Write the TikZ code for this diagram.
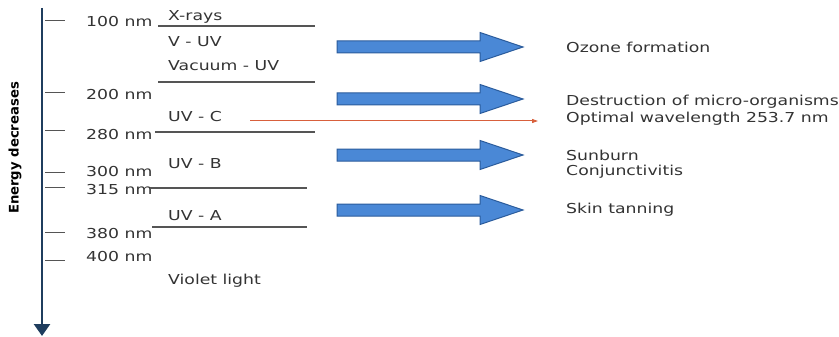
\documentclass[tikz,border=0pt]{standalone}
\usepackage{fontspec}
\usetikzlibrary{arrows.meta}
\setmainfont{DejaVu Sans}[FakeStretch=1.26]
\newfontfamily\energyfont{DejaVu Sans}
\definecolor{txt}{HTML}{333333}
\definecolor{rule}{HTML}{555555}
\definecolor{axisc}{HTML}{1F3D5E}
\definecolor{bfill}{HTML}{4A88D6}
\definecolor{bdraw}{HTML}{2B5C9C}
\definecolor{redc}{HTML}{D8603C}
\begin{document}
\begin{tikzpicture}[x=1pt,y=-1pt,
  lbl/.style={anchor=west,inner sep=0pt,text=txt,font=\fontsize{13.7}{16}\selectfont},
  tick/.style={draw=rule,line width=1pt},
  band/.style={draw=rule,line width=1.1pt},
  barrow/.pic={\draw[fill=bfill,draw=bdraw,line width=1pt,line join=miter]
     (0,-6) -- (143,-6) -- (143,-14.5) -- (186,0) -- (143,14.5) -- (143,6) -- (0,6) -- cycle;}
]
\useasboundingbox (0,0) rectangle (839,337);
% axis
\coordinate (atop) at (42,8);
\coordinate (abot) at (42,336);
\draw[axisc,line width=2.6pt,-{Triangle[length=12pt,width=16pt]}] (atop) -- (abot);
\node[rotate=90,text=black,font=\energyfont\bfseries\fontsize{13.2}{15}\selectfont] (energy) at (15,148) {Energy decreases};
% ticks
\foreach \y/\n in {21/t100,93/t200,131/t280,172/t300,187/t315,232/t380,260/t400}
  \draw[tick] (45,\y) coordinate (\n a) -- (65,\y) coordinate (\n b);
% nm labels
\node[lbl] (n100) at (86,22) {100 nm};
\node[lbl] (n200) at (86,95) {200 nm};
\node[lbl] (n280) at (86,135) {280 nm};
\node[lbl] (n300) at (86,172) {300 nm};
\node[lbl] (n315) at (86,190) {315 nm};
\node[lbl] (n380) at (86,234) {380 nm};
\node[lbl] (n400) at (86,257) {400 nm};
% band lines
\draw[band] (158,26) coordinate (l1a) -- (315,26) coordinate (l1b);
\draw[band] (158,82) coordinate (l2a) -- (315,82) coordinate (l2b);
\draw[band] (155,132) coordinate (l3a) -- (315,132) coordinate (l3b);
\draw[band] (150,188) coordinate (l4a) -- (307,188) coordinate (l4b);
\draw[band] (152,227) coordinate (l5a) -- (307,227) coordinate (l5b);
% band labels
\node[lbl] (xr) at (168,17) {X-rays};
\node[lbl] (vuv) at (168,42) {V - UV};
\node[lbl] (vac) at (168,66) {Vacuum - UV};
\node[lbl] (uvc) at (168,117) {UV - C};
\node[lbl] (uvb) at (168,164) {UV - B};
\node[lbl] (uva) at (168,216) {UV - A};
\node[lbl] (vio) at (168,281) {Violet light};
% block arrows
\pic at (337,47) {barrow};
\pic at (337,99) {barrow};
\pic at (337,155) {barrow};
\pic at (337,210) {barrow};
% red arrow
\coordinate (rs) at (250,121);
\coordinate (re) at (538,121);
\draw[redc,line width=1pt,-{Triangle[length=6pt,width=4pt]}] (rs) -- (re);
% effects
\node[lbl] (oz) at (566,47) {Ozone formation};
\node[lbl] (de) at (566,102) {Destruction of micro-organisms};
\node[lbl] (op) at (566,119) {Optimal wavelength 253.7 nm};
\node[lbl] (su) at (566,155) {Sunburn};
\node[lbl] (co) at (566,172) {Conjunctivitis};
\node[lbl] (sk) at (566,210) {Skin tanning};
\end{tikzpicture}
\end{document}
